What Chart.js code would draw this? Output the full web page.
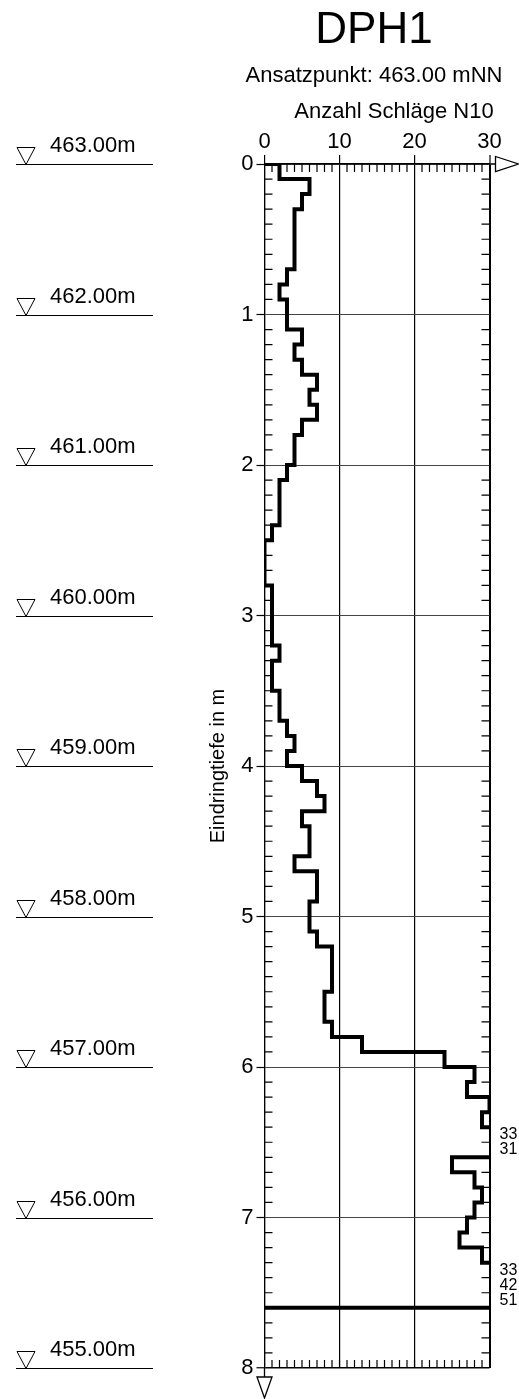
<!DOCTYPE html>
<html lang="de">
<head>
<meta charset="utf-8">
<title>DPH1</title>
<script src="https://cdn.jsdelivr.net/npm/chart.js@4.4.1/dist/chart.umd.min.js"></script>
<style>
html,body{margin:0;padding:0;background:#fff}
canvas{display:block}
</style>
</head>
<body>
<canvas id="sondierung" width="519" height="1399"></canvas>
<script>
// Rammsondierung DPH1 - Schlagzahlen N10 je 10 cm Eindringung
const SONDE='DPH1';
const ANSATZ='Ansatzpunkt: 463.00 mNN';
const X_TITEL='Anzahl Schläge N10';
const Y_TITEL='Eindringtiefe in m';
const N10=[
  2,6,5,4,4,4,4,3,2,3,
  3,5,4,5,7,6,7,5,4,4,
  3,2,2,2,1,0,0,0,1,1,
  1,1,2,1,1,2,2,3,4,3,
  5,7,8,5,6,6,4,7,7,6,
  6,7,9,9,9,8,8,9,13,24,
  28,27,30,29,33,31,25,28,29,28,
  27,26,29,33,42,51
];
const SCHRITT=0.1;     // m je Messwert
const ENDTIEFE=7.6;    // m
const X_TICKS=[0,10,20,30];
const Y_TICKS=[0,1,2,3,4,5,6,7,8];
const HOEHEN=['463.00m','462.00m','461.00m','460.00m','459.00m','458.00m','457.00m','456.00m','455.00m'];

const FONT="'Liberation Sans', Arial, Helvetica, sans-serif";
Chart.defaults.font.family=FONT;
Chart.defaults.color='#000';

// Stufenlinie: Wert gilt jeweils von Oberkante bis Unterkante des 10-cm-Intervalls
const punkte=[{x:0,y:0}];
N10.forEach((n,i)=>punkte.push({x:n,y:+(i*SCHRITT).toFixed(2)}));
punkte.push({x:N10[N10.length-1],y:ENDTIEFE},{x:0,y:ENDTIEFE});

const rahmen={
  id:'rahmen',
  afterDatasetsDraw(chart){
    const {ctx,chartArea:a,scales:{x,y}}=chart;
    ctx.save();
    ctx.strokeStyle='#000';ctx.fillStyle='#000';
    // innere Teilstriche
    ctx.lineWidth=1.2;ctx.beginPath();
    for(let v=x.min+1;v<x.max;v++){
      const px=x.getPixelForValue(v);
      if(v%10!==0){ctx.moveTo(px,a.top);ctx.lineTo(px,a.top+8);}
      ctx.moveTo(px,a.bottom);ctx.lineTo(px,a.bottom-8);
    }
    for(let k=1;k<Math.round(y.max/SCHRITT);k++){
      if(k%10===0)continue;
      const py=y.getPixelForValue(k*SCHRITT);
      ctx.moveTo(a.left,py);ctx.lineTo(a.left+8,py);
      ctx.moveTo(a.right,py);ctx.lineTo(a.right-8,py);
    }
    ctx.stroke();
    // Pfeile an den Achsenenden
    ctx.lineWidth=1.3;ctx.beginPath();
    ctx.moveTo(a.right,a.top);ctx.lineTo(a.right+6,a.top);
    ctx.moveTo(a.right+6,a.top-7.5);ctx.lineTo(a.right+29,a.top);ctx.lineTo(a.right+6,a.top+7.5);ctx.closePath();
    ctx.moveTo(a.left,a.bottom);ctx.lineTo(a.left,a.bottom+9);
    ctx.moveTo(a.left-7.5,a.bottom+9);ctx.lineTo(a.left+7.5,a.bottom+9);ctx.lineTo(a.left,a.bottom+30);ctx.closePath();
    ctx.stroke();
    // Werte oberhalb der Skala
    ctx.font='16px '+FONT;ctx.textAlign='left';ctx.textBaseline='middle';
    N10.forEach((n,i)=>{
      if(n>x.max)ctx.fillText(String(n),a.right+10,y.getPixelForValue((i+0.5)*SCHRITT));
    });
    // Kopf
    ctx.textAlign='center';ctx.textBaseline='alphabetic';
    ctx.font='44px '+FONT;ctx.fillText(SONDE,374,43);
    ctx.font='22px '+FONT;ctx.fillText(ANSATZ,374,82);
    ctx.fillText(X_TITEL,394,118);
    // Hoehenkoten links
    ctx.textAlign='left';ctx.lineWidth=1;
    HOEHEN.forEach((t,i)=>{
      const py=Math.round(y.getPixelForValue(Y_TICKS[i]))+0.5;
      ctx.beginPath();
      ctx.moveTo(16,py);ctx.lineTo(153,py);
      ctx.moveTo(17,py-17);ctx.lineTo(35,py-17);ctx.lineTo(26,py);ctx.closePath();
      ctx.stroke();
      ctx.fillText(t,50,py-13);
    });
    ctx.restore();
  }
};

new Chart(document.getElementById('sondierung'),{
  type:'line',
  data:{datasets:[{
    data:punkte,borderColor:'#000',borderWidth:4,pointRadius:0,fill:false,
    stepped:'after',borderJoinStyle:'miter',borderCapStyle:'butt'
  }]},
  options:{
    responsive:false,animation:false,devicePixelRatio:1,
    layout:{padding:{left:200,right:29.5,top:120,bottom:31}},
    plugins:{legend:{display:false},tooltip:{enabled:false}},
    scales:{
      x:{
        type:'linear',position:'top',min:0,max:30,
        afterBuildTicks:s=>{s.ticks=X_TICKS.map(v=>({value:v}))},
        afterFit:s=>{s.height=44},
        ticks:{font:{size:22},color:'#000',padding:0,maxRotation:0},
        grid:{color:'#000',lineWidth:c=>c.tick&&c.tick.value===30?2:1.2,tickLength:9,tickColor:'#000',tickWidth:1.2},
        border:{display:true,color:'#000',width:1.5}
      },
      y:{
        type:'linear',reverse:true,min:0,max:8,
        afterBuildTicks:s=>{s.ticks=Y_TICKS.map(v=>({value:v}))},
        afterFit:s=>{s.width=64.5},
        ticks:{font:{size:22},color:'#000',padding:3},
        grid:{color:c=>c.tick&&c.tick.value===8?'#000':'#444',lineWidth:c=>c.tick&&c.tick.value===8?1.5:1,tickLength:8,tickColor:'#000',tickWidth:1.2},
        border:{display:true,color:'#000',width:1.2},
        title:{display:true,text:Y_TITEL,color:'#000',font:{size:20},padding:{top:6,bottom:0}}
      }
    }
  },
  plugins:[rahmen]
});
</script>
</body>
</html>
